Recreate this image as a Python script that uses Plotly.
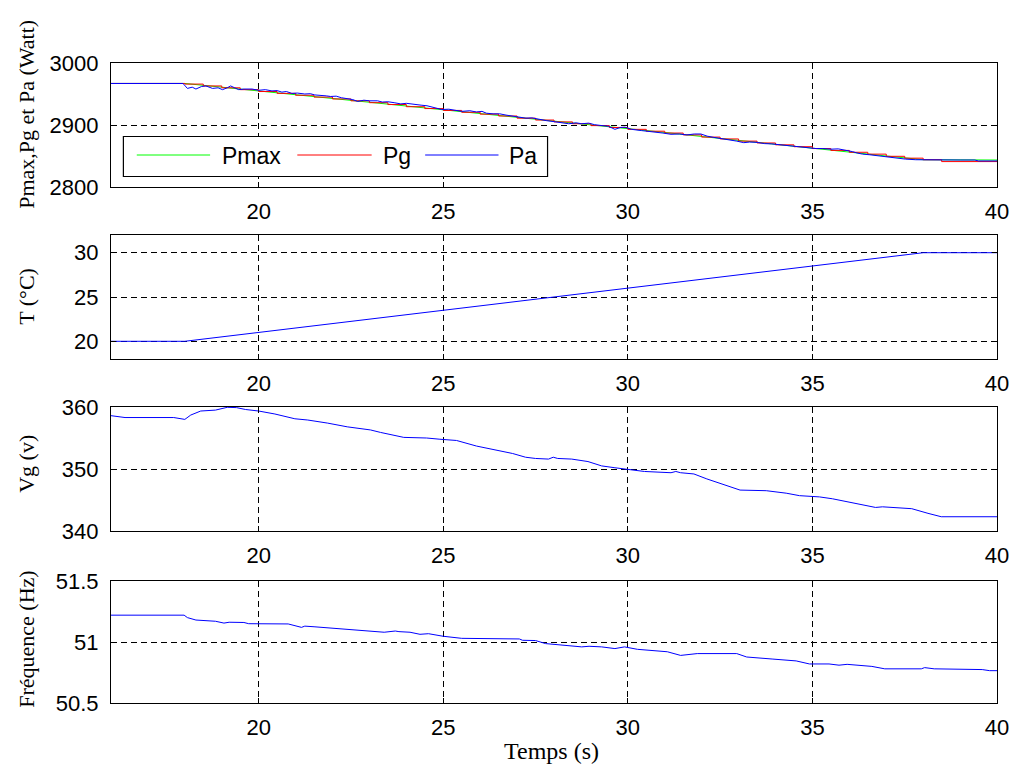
import plotly.graph_objects as go

# ---------------- data ----------------
pmax_t = [16, 18, 19, 20, 21, 22, 23, 24, 25, 26, 27, 28, 29, 30, 31, 32, 33, 34, 35, 36, 37, 38, 40]
pmax_v = [2967, 2967, 2961, 2955, 2949, 2943, 2937, 2930.5, 2924.5, 2918.5, 2912, 2906, 2900, 2894,
          2888, 2881.5, 2875, 2869, 2862.5, 2856.5, 2850, 2844, 2843.5]

pg_t = [16, 18, 18.5, 19, 19.5, 20, 20.5, 21, 21.5, 22, 22.5, 23, 23.5, 24, 24.5, 25, 25.5, 26, 26.5,
        27, 27.5, 28, 28.5, 29, 29.5, 30, 30.5, 31, 31.5, 32, 32.5, 33, 33.5, 34, 34.5, 35, 35.5, 36,
        36.5, 37, 37.5, 38, 38.5, 40]
pg_v = [2967, 2966, 2963, 2960, 2957, 2954, 2951, 2948, 2945, 2942, 2939, 2936, 2933, 2929.5, 2926.5,
        2923.5, 2920.5, 2917.5, 2914.5, 2911, 2908, 2905, 2902, 2899, 2896, 2893, 2890, 2887, 2884,
        2880.5, 2877.5, 2874, 2871, 2868, 2865, 2862, 2859, 2856, 2853, 2849.5, 2846.5, 2844, 2841, 2841]

pa_t = [16, 17.95, 18.07, 18.2, 18.3, 18.45, 18.57, 18.75, 18.9, 19.02, 19.15, 19.24, 19.35, 19.46,
        19.6, 19.82, 20.0, 20.18, 20.36, 20.5, 20.63, 20.75, 20.9, 21.05, 21.25, 21.4, 21.52, 21.7,
        21.83, 21.95, 22.1, 22.24, 22.4, 22.55, 22.68, 22.85, 23.0, 23.22, 23.35, 23.5, 23.67, 23.85,
        24.0, 24.2, 24.4, 24.56, 24.75, 24.96, 25.15, 25.35, 25.5, 25.72, 25.9, 26.05, 26.17, 26.35,
        26.53, 26.7, 26.9, 27.05, 27.24, 27.4, 27.6, 27.8, 28.05, 28.2, 28.4, 28.6, 28.75, 28.94,
        29.1, 29.3, 29.47, 29.65, 29.8, 29.92, 30.1, 30.37, 30.55, 30.75, 30.95, 31.17, 31.4, 31.6,
        31.8, 31.98, 32.15, 32.33, 32.55, 32.78, 32.95, 33.14, 33.3, 33.5, 33.7, 33.9, 34.12, 34.35,
        34.55, 34.75, 34.93, 35.1, 35.28, 35.5, 35.7, 35.87, 36.09, 36.2, 36.36, 36.55, 36.8, 37.07,
        37.3, 37.52, 37.8, 38.23, 39.0, 39.4, 39.5, 40.0]
pa_v = [2967, 2967, 2959, 2961, 2958, 2962, 2963, 2959, 2960, 2957, 2960, 2963, 2960, 2957,
        2958, 2958, 2956, 2957, 2955, 2955.5, 2953, 2954, 2951, 2951.5, 2950, 2950.5, 2948.5, 2948,
        2947, 2946, 2946.5, 2944, 2943, 2941, 2938, 2940, 2939, 2939, 2937, 2937.5, 2936, 2934,
        2935, 2933, 2932, 2931, 2928, 2925, 2925.5, 2924, 2922, 2923, 2921, 2922, 2919, 2918,
        2918, 2916, 2914, 2913.5, 2911, 2911.5, 2909, 2907, 2905, 2904, 2902, 2903.5, 2902, 2903,
        2900.5, 2899, 2898, 2893, 2896, 2896.5, 2893, 2891, 2890, 2888, 2887, 2885, 2885.5, 2884,
        2885.5, 2885.5, 2882, 2880, 2878, 2876, 2874, 2871.5, 2872.5, 2872, 2870, 2869.5, 2868, 2866,
        2865, 2863.5, 2862.5, 2862, 2862, 2861, 2861.5, 2860, 2857, 2855, 2853, 2852, 2850, 2848,
        2846, 2845, 2844, 2843.5, 2843.5, 2843.5, 2842, 2842]

temp_t = [16, 18, 38, 40]
temp_v = [20, 20, 30, 30]

vg_t = [16.0, 16.38, 17.7, 18.0, 18.16, 18.43, 18.83, 19.15, 19.4, 19.64, 20.0, 20.44, 20.98, 21.33,
        21.87, 22.4, 23.03, 23.3, 23.93, 24.55, 24.91, 25.36, 25.9, 26.43, 26.88, 27.23, 27.5, 27.85,
        27.98, 28.1, 28.48, 28.92, 29.29, 29.65, 29.91, 30.45, 31.17, 31.3, 31.43, 31.79, 32.14, 32.5,
        32.86, 33.04, 33.75, 34.29, 34.65, 35.19, 35.54, 36.08, 36.71, 36.9, 37.42, 37.69, 38.13,
        38.49, 40.0]
vg_v = [358.6, 358.3, 358.3, 358.0, 358.7, 359.35, 359.5, 359.95, 359.9, 359.6, 359.35, 358.87, 358.1,
        357.9, 357.4, 356.8, 356.3, 355.9, 355.1, 355.0, 354.8, 354.6, 353.7, 353.1, 352.5, 351.9,
        351.7, 351.6, 351.9, 351.7, 351.6, 351.2, 350.5, 350.2, 350.0, 349.6, 349.4, 349.6, 349.4,
        349.2, 348.4, 347.7, 346.9, 346.6, 346.5, 346.1, 345.7, 345.5, 345.2, 344.5, 343.8, 343.9,
        343.7, 343.6, 342.85, 342.3, 342.3]

f_t = [16.0, 17.98, 18.07, 18.3, 18.83, 19.06, 19.2, 19.6, 19.73, 20.8, 21.16, 21.25, 21.5, 22.15,
       22.6, 23.4, 23.7, 23.8, 24.1, 24.37, 24.6, 25.0, 25.5, 26.26, 26.35, 27.06, 27.15, 27.5, 27.77,
       28.3, 28.75, 28.95, 29.29, 29.65, 29.91, 30.26, 31.07, 31.43, 31.88, 32.95, 33.22, 33.93,
       34.56, 34.92, 35.45, 35.72, 35.94, 36.61, 36.96, 37.95, 38.04, 38.3, 39.6, 39.8, 40.0]
f_v = [51.22, 51.22, 51.2, 51.18, 51.17, 51.155, 51.162, 51.16, 51.15, 51.148, 51.12, 51.13, 51.125,
       51.11, 51.096, 51.08, 51.09, 51.085, 51.08, 51.063, 51.068, 51.047, 51.03, 51.03, 51.025,
       51.025, 51.014, 51.012, 50.987, 50.973, 50.96, 50.965, 50.96, 50.946, 50.96, 50.94, 50.92,
       50.89, 50.905, 50.905, 50.877, 50.86, 50.845, 50.82, 50.82, 50.81, 50.817, 50.8, 50.78,
       50.78, 50.79, 50.78, 50.774, 50.765, 50.765]

x_ticks = [20, 25, 30, 35, 40]
y1_ticks = [2800, 2900, 3000]
y2_ticks = [20, 25, 30]
y3_ticks = [340, 350, 360]
y4_ticks = [50.5, 51, 51.5]
y4_ticktext = ["50.5", "51", "51.5"]

legend_names = ["Pmax", "Pg", "Pa"]
colors = ["#00ff00", "#ff0000", "#0000ff"]

# ---------------- layout geometry (window pixel coords) ----------------
W, H = 1021, 767
# plot area: x 111..1004, y 63..703
ML, MR, MT, MB = 111, W - 1005, 63, H - 703
PW, PH = W - ML - MR, H - MT - MB


def px(xw):
    return (xw - ML) / PW


def py(yw):
    return (H - MB - yw) / PH


panels = [(63, 187), (235, 359), (407, 531), (581, 703)]

fig = go.Figure()
lw = 1
fig.add_trace(go.Scatter(x=pmax_t, y=pmax_v, mode="lines", line=dict(color=colors[0], width=lw),
                         xaxis="x", yaxis="y", showlegend=False))
fig.add_trace(go.Scatter(x=pg_t, y=pg_v, mode="lines", line=dict(color=colors[1], width=lw, shape="hv"),
                         xaxis="x", yaxis="y", showlegend=False))
fig.add_trace(go.Scatter(x=pa_t, y=pa_v, mode="lines", line=dict(color=colors[2], width=lw),
                         xaxis="x", yaxis="y", showlegend=False))
fig.add_trace(go.Scatter(x=temp_t, y=temp_v, mode="lines", line=dict(color="#0000ff", width=lw),
                         xaxis="x2", yaxis="y2", showlegend=False))
fig.add_trace(go.Scatter(x=vg_t, y=vg_v, mode="lines", line=dict(color="#0000ff", width=lw),
                         xaxis="x3", yaxis="y3", showlegend=False))
fig.add_trace(go.Scatter(x=f_t, y=f_v, mode="lines", line=dict(color="#0000ff", width=lw),
                         xaxis="x4", yaxis="y4", showlegend=False))

tickfont = dict(family="Arial, Liberation Sans, sans-serif", size=22, color="black")
common_x = dict(range=[16, 40], tickvals=x_ticks, showline=True, linecolor="black", linewidth=1.2,
                mirror="ticks", ticks="inside", ticklen=5, tickcolor="black", showgrid=True,
                gridcolor="black", griddash="6px,4px", gridwidth=1, zeroline=False, tickfont=tickfont,
                ticklabelstandoff=4)
common_y = dict(showline=True, linecolor="black", linewidth=1.2, mirror="ticks", ticks="inside",
                ticklen=5, tickcolor="black", showgrid=True, gridcolor="black", griddash="6px,4px",
                gridwidth=1, zeroline=False, tickfont=tickfont, ticklabelstandoff=7)

yranges = [[2800, 3000], [18, 32], [340, 360], [50.5, 51.5]]
yticks = [y1_ticks, y2_ticks, y3_ticks, y4_ticks]
yticktexts = [[str(v) for v in y1_ticks], [str(v) for v in y2_ticks], [str(v) for v in y3_ticks], y4_ticktext]

layout = dict(width=W, height=H, margin=dict(l=ML, r=MR, t=MT, b=MB), paper_bgcolor="white",
              plot_bgcolor="white", showlegend=False)
for i, (top, bot) in enumerate(panels):
    sfx = "" if i == 0 else str(i + 1)
    dom = [max(0.0, py(bot)), min(1.0, py(top))]
    layout["xaxis" + sfx] = dict(common_x, domain=[0, 1], anchor="y" + sfx)
    layout["yaxis" + sfx] = dict(common_y, domain=dom, anchor="x" + sfx, range=yranges[i],
                                 tickvals=yticks[i], ticktext=yticktexts[i])
fig.update_layout(**layout)

# y titles (Times style)
title_font = dict(family="Liberation Serif, Times New Roman, serif", size=22, color="black")
ytitles = ["Pmax,Pg et Pa (Watt)", "T (°C)", "Vg (v)", "Fréquence (Hz)"]
ycenters = [114, 296, 464, 639]
for t, yc in zip(ytitles, ycenters):
    fig.add_annotation(text=t, xref="paper", yref="paper", x=px(25), y=py(yc), textangle=-90,
                       showarrow=False, font=title_font, xanchor="center", yanchor="middle")
fig.add_annotation(text="Temps (s)", xref="paper", yref="paper", x=px(555), y=py(751),
                   showarrow=False, font=dict(title_font, size=24), xanchor="center", yanchor="middle")

# custom legend (box, sample lines, labels)
fig.add_shape(type="rect", xref="paper", yref="paper", x0=px(123.5), x1=px(551.5), y0=py(176.5),
              y1=py(136.5), line=dict(color="black", width=1.2), fillcolor="white", layer="above")
leg_lines = [(137, 211), (299, 374), (428, 502)]
leg_text_x = [221, 383, 511]
for (a, b), c, name, tx in zip(leg_lines, colors, legend_names, leg_text_x):
    fig.add_shape(type="line", xref="paper", yref="paper", x0=px(a), x1=px(b), y0=py(155), y1=py(155),
                  line=dict(color=c, width=1), layer="above")
    fig.add_annotation(text=name, xref="paper", yref="paper", x=px(tx), y=py(156), showarrow=False,
                       xanchor="left", yanchor="middle", font=dict(tickfont, size=23))

fig.write_html("out.html", config={"displayModeBar": False},
               post_script="document.body.style.margin='0px';document.body.style.overflow='hidden';")
